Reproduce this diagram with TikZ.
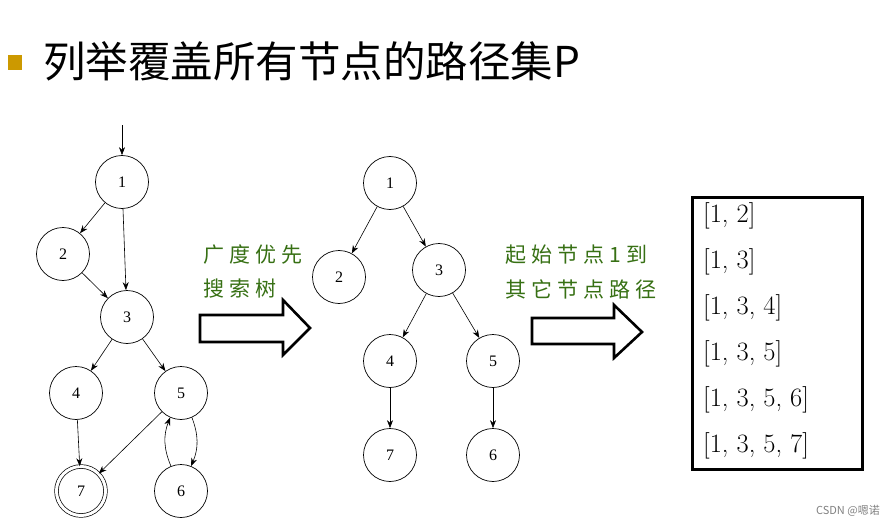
\documentclass[tikz,border=0pt]{standalone}
\usepackage{fontspec}
\usepackage{amsmath}
\usepackage{tikz}
\usetikzlibrary{arrows.meta}
\newfontfamily\cjk{Noto Sans CJK SC}
\newfontfamily\cjkspaced[LetterSpace=24]{Noto Sans CJK SC}
\newfontfamily\numfont{Liberation Serif}
\definecolor{bulletgold}{RGB}{204,153,0}
\definecolor{notegreen}{RGB}{55,112,20}
\begin{document}
\begin{tikzpicture}[x=1pt,y=-1pt]
\tikzstyle{every node}+=[inner sep=0pt]
\tikzstyle{state}=[draw, circle, minimum size=53pt, line width=0.7pt, font=\numfont\fontsize{16}{16}\selectfont]
\tikzstyle{edge}=[line width=0.6pt, -{Stealth[length=8pt,width=6pt]}]
\tikzstyle{fatarrow}=[draw, line width=2.6pt, line join=miter]
\tikzstyle{note}=[anchor=west, text=notegreen, font=\cjkspaced\fontsize{21}{21}\selectfont]
\tikzstyle{path}=[anchor=west, font=\fontsize{26.5}{26.5}\selectfont]
\useasboundingbox (0,0) rectangle (895,527);
\fill [bulletgold] (8,55) rectangle (22,70);
\node [anchor=west, font=\cjk\fontsize{42.5}{42.5}\selectfont] (title) at (43,61) {列举覆盖所有节点的路径集P};
\coordinate (entry) at (122,125);
\node [state] (a1) at (122,182) {1};
\node [state] (a2) at (63,254) {2};
\node [state] (a3) at (127,317) {3};
\node [state] (a4) at (76,393) {4};
\node [state] (a5) at (181,393) {5};
\node [state, minimum size=49pt, double, double distance=3pt] (a7) at (81,491) {7};
\node [state] (a6) at (181,491) {6};
\draw [edge] (entry) -- (a1);
\draw [edge] (a1) -- (a2);
\draw [edge] (a1) -- (a3);
\draw [edge] (a2) -- (a3);
\draw [edge] (a3) -- (a4);
\draw [edge] (a3) -- (a5);
\draw [edge] (a4) -- (a7);
\draw [edge] (a5) -- (a7);
\draw [edge] (a6.112) to[bend left=22] (a5.246);
\draw [edge] (a5.294) to[bend left=22] (a6.68);
\node [note] (bfs1) at (203,255) {广度优先};
\node [note] (bfs2) at (203,289) {搜索树};
\draw [fatarrow] (200,315) -- (283,315) -- (283,300) -- (310,328) -- (283,355) -- (283,342) -- (200,342) -- cycle;
\node [state] (b1) at (390,183) {1};
\node [state] (b2) at (339,277) {2};
\node [state] (b3) at (439,270) {3};
\node [state] (b4) at (390,361) {4};
\node [state] (b5) at (493,361) {5};
\node [state] (b7) at (390,455) {7};
\node [state] (b6) at (493,455) {6};
\draw [edge] (b1) -- (b2);
\draw [edge] (b1) -- (b3);
\draw [edge] (b3) -- (b4);
\draw [edge] (b3) -- (b5);
\draw [edge] (b4) -- (b7);
\draw [edge] (b5) -- (b6);
\node [note] (sub1) at (505,255) {起始节点1到};
\node [note] (sub2) at (505,289) {其它节点路径};
\draw [fatarrow] (532,318) -- (614,318) -- (614,305) -- (642,332) -- (614,358) -- (614,344) -- (532,344) -- cycle;
\draw [line width=3pt] (692,197) rectangle (862,469);
\node [path] (p1) at (703,216) {[1, 2]};
\node [path] (p2) at (703,262) {[1, 3]};
\node [path] (p3) at (703,308) {[1, 3, 4]};
\node [path] (p4) at (703,354) {[1, 3, 5]};
\node [path] (p5) at (703,400) {[1, 3, 5, 6]};
\node [path] (p6) at (703,446) {[1, 3, 5, 7]};
\node [anchor=east, text=gray, font=\cjk\fontsize{11}{11}\selectfont] (mark) at (880,511) {CSDN @嗯诺};
\end{tikzpicture}
\end{document}
